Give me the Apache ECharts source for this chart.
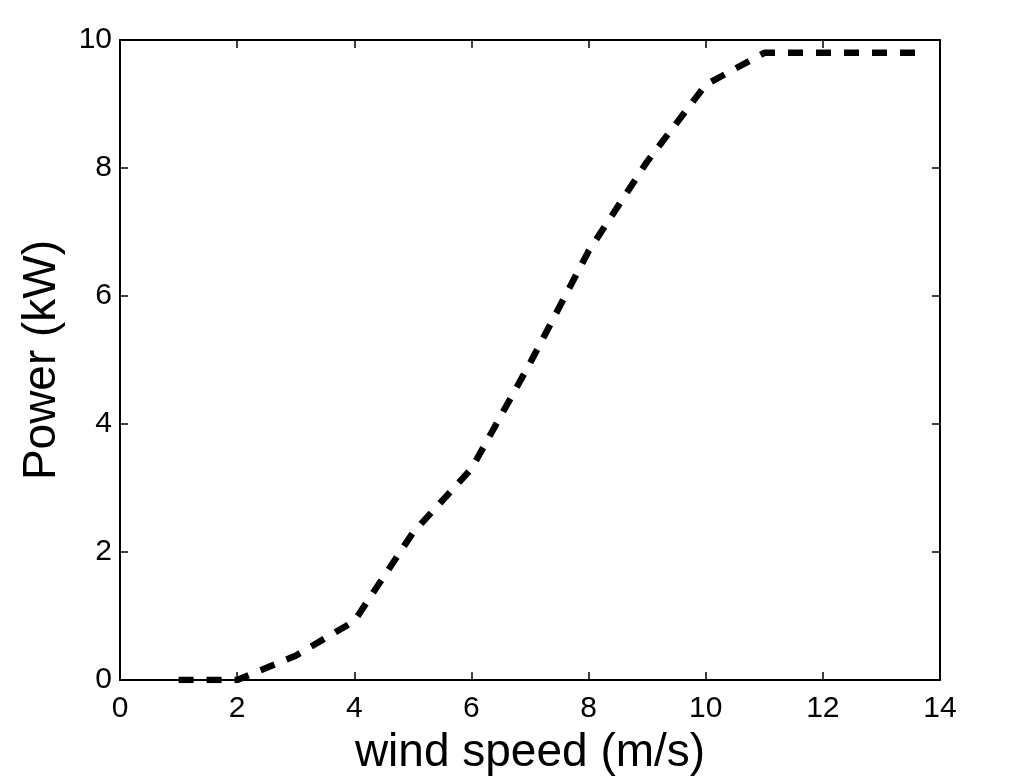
<!DOCTYPE html>
<html>
<head>
<meta charset="utf-8">
<script src="https://cdn.jsdelivr.net/npm/echarts@6/dist/echarts.min.js"></script>
<style>
	html, body { margin: 0; padding: 0; background: #fff; }
	#chart { width: 1022px; height: 777px; }
</style>
</head>
<body>
<div id="chart"></div>
<script>
	'use strict'
	/*----data----*/
	var windSpeed = [1, 2, 3, 4, 5, 6, 7, 8, 9, 10, 11, 13.75];
	var power = [0, 0, 0.38, 0.92, 2.3, 3.3, 4.95, 6.7, 8.1, 9.3, 9.8, 9.8];
	var xTicks = [0, 2, 4, 6, 8, 10, 12, 14];
	var yTicks = [0, 2, 4, 6, 8, 10];

	var points = windSpeed.map(function(x, i) {
		return [x, power[i]];
	});

	var fontFamily = 'Liberation Sans, Arial, Helvetica, sans-serif';
	var frameLine = { show: true, onZero: false, lineStyle: { color: '#000', width: 2 } };
	var innerTick = { show: true, inside: true, length: 8, lineStyle: { color: '#000', width: 1.5 } };

	var chart = echarts.init(document.getElementById('chart'));
	var option = {
		animation: false,
		backgroundColor: '#fff',
		grid: {
			top: 40,
			right: 82,
			bottom: 97,
			left: 120,
			containLabel: false,
			outerBoundsMode: 'none'
		},
		xAxis: [{
			type: 'value',
			min: xTicks[0],
			max: xTicks[xTicks.length - 1],
			interval: 2,
			name: 'wind speed (m/s)',
			nameLocation: 'middle',
			nameGap: 50,
			nameTextStyle: { fontSize: 46, color: '#000', fontFamily: fontFamily },
			axisLine: frameLine,
			axisTick: innerTick,
			splitLine: { show: false },
			axisLabel: { fontSize: 30, color: '#000', margin: 14, fontFamily: fontFamily }
		}, {
			type: 'value',
			position: 'top',
			min: xTicks[0],
			max: xTicks[xTicks.length - 1],
			interval: 2,
			axisLine: frameLine,
			axisTick: innerTick,
			splitLine: { show: false },
			axisLabel: { show: false }
		}],
		yAxis: [{
			type: 'value',
			min: yTicks[0],
			max: yTicks[yTicks.length - 1],
			interval: 2,
			name: 'Power (kW)',
			nameLocation: 'middle',
			nameGap: 55,
			nameTextStyle: { fontSize: 46, color: '#000', fontFamily: fontFamily },
			axisLine: frameLine,
			axisTick: innerTick,
			splitLine: { show: false },
			axisLabel: { fontSize: 30, color: '#000', margin: 8, fontFamily: fontFamily }
		}, {
			type: 'value',
			position: 'right',
			min: yTicks[0],
			max: yTicks[yTicks.length - 1],
			interval: 2,
			axisLine: frameLine,
			axisTick: innerTick,
			splitLine: { show: false },
			axisLabel: { show: false }
		}],
		series: [{
			name: 'power curve',
			type: 'line',
			data: points,
			symbol: 'none',
			lineStyle: {
				color: '#000',
				width: 6.5,
				type: [15, 13],
				cap: 'butt'
			}
		}]
	};
	chart.setOption(option);
</script>
</body>
</html>
